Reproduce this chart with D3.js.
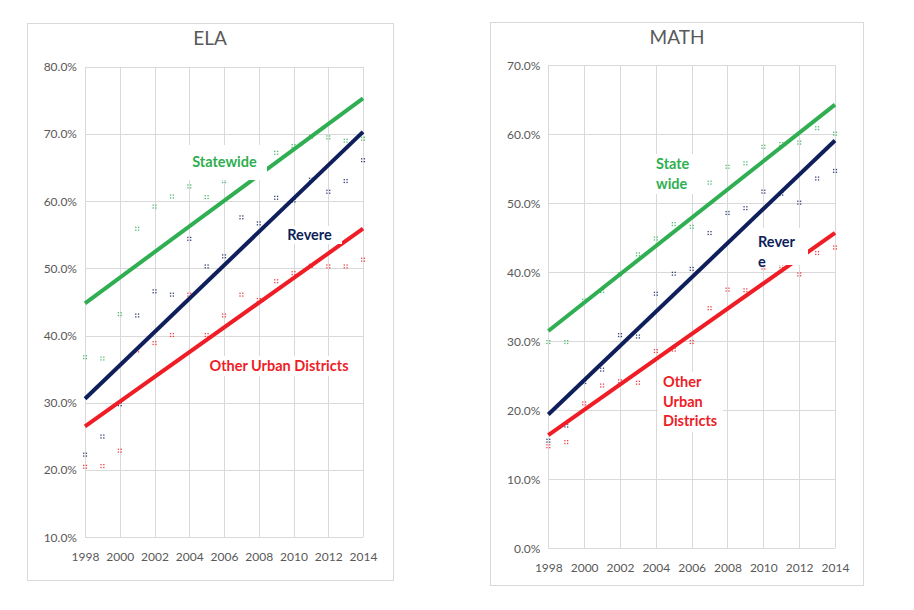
<!DOCTYPE html>
<html><head><meta charset="utf-8">
<script src="https://cdn.jsdelivr.net/npm/d3@7"></script>
<style>
html,body{margin:0;padding:0;background:#fff;}
svg{display:block;font-family:Lato, "Open Sans", sans-serif;}
</style></head>
<body>
<svg id="chart" width="914" height="610"></svg>
<script>
// ---------- DATA ----------
const years = [1998,1999,2000,2001,2002,2003,2004,2005,2006,2007,2008,2009,2010,2011,2012,2013,2014];
const xTicks = [1998,2000,2002,2004,2006,2008,2010,2012,2014];

const elaStatewide = [36.8,36.6,43.2,55.9,59.2,60.7,62.2,60.6,63.0,64.5,65.8,67.2,68.2,69.6,69.5,69.0,69.3];
const elaRevere    = [22.3,25.0,29.8,43.0,46.6,46.1,54.4,50.3,51.8,57.6,56.7,60.5,60.1,63.2,61.4,63.0,66.1];
const elaUrban     = [20.5,20.6,22.9,37.8,38.9,40.1,46.1,40.1,43.0,46.1,45.3,48.1,49.3,50.4,50.3,50.3,51.3];
const elaTrendStatewide = [44.8,75.3];
const elaTrendRevere    = [30.6,70.3];
const elaTrendUrban     = [26.5,55.9];
const elaYTicks = [10,20,30,40,50,60,70,80];

const mathStatewide = [29.9,29.9,35.9,37.3,39.7,42.6,44.9,47.0,46.6,53.0,55.3,55.8,58.2,58.6,58.8,60.9,60.1];
const mathRevere    = [15.6,17.8,24.1,25.9,30.9,30.7,36.9,39.8,40.5,45.7,48.6,49.3,51.7,51.4,50.1,53.6,54.7];
const mathUrban     = [14.8,15.4,21.0,23.6,24.2,24.0,28.6,28.8,29.9,34.8,37.5,37.4,40.7,40.9,39.7,42.8,43.6];
const mathTrendStatewide = [31.5,64.3];
const mathTrendRevere    = [19.4,59.1];
const mathTrendUrban     = [16.4,45.7];
const mathYTicks = [0,10,20,30,40,50,60,70];

const trendYears = [1998,2014];
const titles = ["ELA","MATH"];

// ---------- STYLE ----------
const GREEN = "#2fae52", NAVY = "#0e1f5b", RED = "#ee1d26";
const svg = d3.select("#chart");

function drawPanel(cfg){
  const g = svg.append("g");
  // frame
  g.append("rect").attr("x",cfg.frame[0]+0.5).attr("y",cfg.frame[1]+0.5)
    .attr("width",cfg.frame[2]-cfg.frame[0]).attr("height",cfg.frame[3]-cfg.frame[1])
    .attr("fill","#fff").attr("stroke","#d9d9d9");
  const x = d3.scaleLinear().domain([1998,2014]).range(cfg.xr);
  const y = d3.scaleLinear().domain(cfg.yd).range(cfg.yr);

  // gridlines
  g.append("g").selectAll("line.h").data(cfg.yTicks).join("line")
    .attr("x1",x(1998)).attr("x2",x(2014))
    .attr("y1",d=>Math.round(y(d))+0.5).attr("y2",d=>Math.round(y(d))+0.5)
    .attr("stroke","#d9d9d9").attr("stroke-width",1);
  g.append("g").selectAll("line.v").data(xTicks).join("line")
    .attr("x1",d=>Math.round(x(d))+0.5).attr("x2",d=>Math.round(x(d))+0.5)
    .attr("y1",y(cfg.yd[1])).attr("y2",y(cfg.yd[0]))
    .attr("stroke","#d9d9d9").attr("stroke-width",1);

  // axes (labels only)
  const yAxis = d3.axisLeft(y).tickValues(cfg.yTicks).tickSize(0).tickPadding(8)
    .tickFormat(d=>d3.format(".1f")(d)+"%");
  const ya = g.append("g").attr("transform",`translate(${x(1998)},0)`).call(yAxis);
  ya.select(".domain").remove();
  ya.selectAll("text").attr("font-family","Lato").attr("font-size",12).attr("fill","#595959");

  const xAxis = d3.axisBottom(x).tickValues(xTicks).tickSize(0).tickPadding(cfg.xPad)
    .tickFormat(d3.format("d"));
  const xa = g.append("g").attr("transform",`translate(0,${y(cfg.yd[0])})`).call(xAxis);
  xa.select(".domain").remove();
  xa.selectAll("text").attr("font-family","Lato").attr("font-size",12).attr("fill","#595959");

  // title
  g.append("text").attr("x",cfg.titleX).attr("y",cfg.titleY).attr("text-anchor","middle")
    .attr("font-family","Lato").attr("font-size",19).attr("fill","#595959").text(cfg.title);

  // markers
  const offs = [[-1.4,-1.4],[1.4,-1.4],[-1.4,1.4],[1.4,1.4]];
  cfg.series.forEach(s=>{
    const mg = g.append("g").attr("fill",s.color).attr("opacity",0.85);
    s.values.forEach((v,i)=>{
      const cx = x(years[i]), cy = y(v);
      offs.forEach(o=>{
        mg.append("rect").attr("x",cx+o[0]-0.6).attr("y",cy+o[1]-0.6)
          .attr("width",1.3).attr("height",1.3);
      });
    });
  });
  // trendlines
  cfg.series.forEach(s=>{
    g.append("line")
      .attr("x1",x(trendYears[0])).attr("y1",y(s.trend[0]))
      .attr("x2",x(trendYears[1])).attr("y2",y(s.trend[1]))
      .attr("stroke",s.color).attr("stroke-width",4);
  });
  // labels with white boxes
  cfg.labels.forEach(l=>{
    g.append("rect").attr("x",l.box[0]).attr("y",l.box[1])
      .attr("width",l.box[2]-l.box[0]).attr("height",l.box[3]-l.box[1]).attr("fill","#fff");
    const t = g.append("text").attr("font-family","Lato").attr("font-weight","bold")
      .attr("font-size",l.size).attr("fill",l.color).attr("text-anchor",l.anchor);
    l.lines.forEach((ln,i)=>{
      t.append("tspan").attr("x",l.x).attr("y",l.y + i*l.lh).attr("dy","0.35em").text(ln);
    });
  });
}

drawPanel({
  title: titles[0], titleX: 210, titleY: 45,
  frame:[27,23,393,580],
  xr:[85,363], yd:[10,80], yr:[537.3,66.7], yTicks: elaYTicks, xPad: 15,
  series:[
    {values: elaStatewide, trend: elaTrendStatewide, color: GREEN},
    {values: elaRevere, trend: elaTrendRevere, color: NAVY},
    {values: elaUrban, trend: elaTrendUrban, color: RED}
  ],
  labels:[
    {lines:["Statewide"], x:224.5, y:162.3, lh:0, anchor:"middle", color:GREEN, size:14.5, box:[182,145,267,180]},
    {lines:["Revere"], x:309.5, y:235, lh:0, anchor:"middle", color:NAVY, size:14.5, box:[277,226,342,244]},
    {lines:["Other Urban Districts"], x:279, y:366, lh:0, anchor:"middle", color:RED, size:14.5, box:[205,356,353,376]}
  ]
});

drawPanel({
  title: titles[1], titleX: 677, titleY: 44,
  frame:[490,22,863,585],
  xr:[548.3,835], yd:[0,70], yr:[548.3,65.3], yTicks: mathYTicks, xPad: 15,
  series:[
    {values: mathStatewide, trend: mathTrendStatewide, color: GREEN},
    {values: mathRevere, trend: mathTrendRevere, color: NAVY},
    {values: mathUrban, trend: mathTrendUrban, color: RED}
  ],
  labels:[
    {lines:["State","wide"], x:656, y:164, lh:19.5, anchor:"start", color:GREEN, size:14.5, box:[651,154,694,194]},
    {lines:["Rever","e"], x:758, y:241.7, lh:20.3, anchor:"start", color:NAVY, size:14.5, box:[752,228,808,265]},
    {lines:["Other","Urban","Districts"], x:663, y:382, lh:19.5, anchor:"start", color:RED, size:14.5, box:[658,372,723,432]}
  ]
});
</script>
</body></html>
